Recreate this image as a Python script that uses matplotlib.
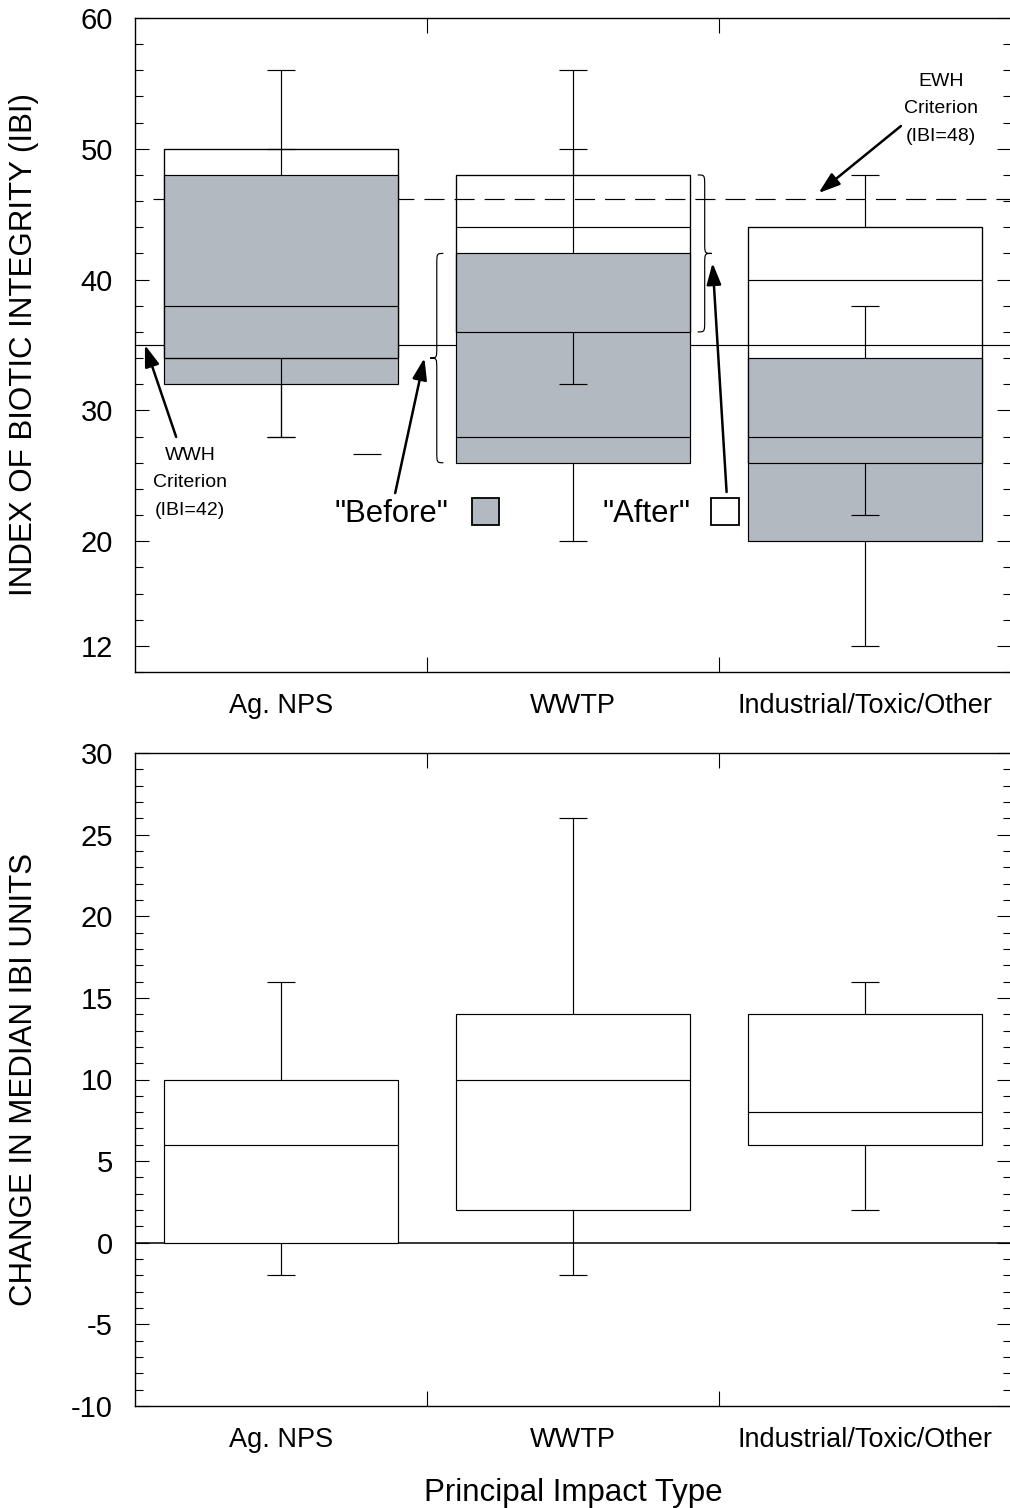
import numpy as np
import matplotlib.pyplot as plt
from matplotlib.path import Path
from matplotlib.patches import PathPatch, Rectangle
from matplotlib.ticker import MultipleLocator, FixedLocator

plt.rcParams['font.family'] = ['Liberation Sans', 'DejaVu Sans']
plt.rcParams['axes.unicode_minus'] = False

categories = ['Ag. NPS', 'WWTP', 'Industrial/Toxic/Other']

# IBI "before" (grey boxes)
before_lo = [28, 20, 12]
before_q1 = [32, 26, 20]
before_med = [34, 28, 28]
before_q3 = [48, 42, 34]
before_hi = [50, 50, 38]

# IBI "after" (white boxes)
after_lo = [28, 32, 22]
after_q1 = [34, 36, 26]
after_med = [38, 44, 40]
after_q3 = [50, 48, 44]
after_hi = [56, 56, 48]

wwh_line = 35
ewh_line = 46.2
stray_cap = [0.295, 26.7]

# change in median IBI units
change_lo = [-2, -2, 2]
change_q1 = [0, 2, 6]
change_med = [6, 10, 8]
change_q3 = [10, 14, 14]
change_hi = [16, 26, 16]

grey = '#b3b9c1'
box_w = 0.8
cap = 0.048
lw = 0.85
x = np.arange(len(categories))


def style_axes(ax, ylim, major_ticks, minor_step):
    ax.set_xlim(-0.5, 2.5)
    ax.set_ylim(*ylim)
    ax.set_xticks(x)
    ax.set_xticklabels(categories)
    ax.xaxis.set_minor_locator(FixedLocator([0.5, 1.5]))
    ax.tick_params(axis='x', which='major', length=0, pad=15, labelsize=19.5)
    ax.tick_params(axis='x', which='minor', direction='in', length=11,
                   width=0.8, top=True, bottom=True)
    ax.set_yticks(major_ticks)
    ax.yaxis.set_minor_locator(MultipleLocator(minor_step))
    ax.tick_params(axis='y', which='major', direction='in', length=10,
                   width=0.8, left=True, right=True, labelsize=21, pad=16)
    ax.tick_params(axis='y', which='minor', direction='in', length=5.5,
                   width=0.8, left=True, right=True)
    for s in ax.spines.values():
        s.set_linewidth(1.0)


def whiskers(ax, lo, q1, q3, hi, z=4):
    ax.vlines(x, q3, hi, color='black', lw=lw, zorder=z)
    ax.vlines(x, lo, q1, color='black', lw=lw, zorder=z)
    ax.hlines(hi, x - cap, x + cap, color='black', lw=lw, zorder=z)
    ax.hlines(lo, x - cap, x + cap, color='black', lw=lw, zorder=z)


def brace(ax, x_end, x_tip, y0, y1, h=0.9):
    xm = (x_end + x_tip) / 2
    ym = (y0 + y1) / 2
    verts = [(x_end, y1), (xm, y1), (xm, y1), (xm, y1 - h),
             (xm, ym + h), (xm, ym), (xm, ym), (x_tip, ym),
             (xm, ym), (xm, ym), (xm, ym - h),
             (xm, y0 + h), (xm, y0), (xm, y0), (x_end, y0)]
    codes = [Path.MOVETO, Path.CURVE4, Path.CURVE4, Path.CURVE4,
             Path.LINETO, Path.CURVE4, Path.CURVE4, Path.CURVE4,
             Path.CURVE4, Path.CURVE4, Path.CURVE4,
             Path.LINETO, Path.CURVE4, Path.CURVE4, Path.CURVE4]
    ax.add_patch(PathPatch(Path(verts, codes), facecolor='none',
                           edgecolor='black', lw=lw, zorder=5))


arrow = dict(arrowstyle='-|>,head_length=0.65,head_width=0.22', lw=1.8,
             color='black', mutation_scale=20, shrinkA=0, shrinkB=0)

fig = plt.figure(figsize=(10.1, 15.08), dpi=100)
ax1 = fig.add_axes([135 / 1010, 1 - 672 / 1508, 876 / 1010, 654 / 1508])
ax2 = fig.add_axes([135 / 1010, 1 - 1406 / 1508, 876 / 1010, 653 / 1508])

# top panel
ax1.bar(x, np.subtract(after_q3, after_q1), bottom=after_q1, width=box_w,
        color='white', edgecolor='black', lw=lw, zorder=1)
ax1.axhline(wwh_line, color='black', lw=lw, zorder=1.5)
ax1.axhline(ewh_line, xmin=0.02, color='black', lw=lw, dashes=(17, 8.5), zorder=1.5)
ax1.bar(x, np.subtract(before_q3, before_q1), bottom=before_q1, width=box_w,
        color=grey, edgecolor='black', lw=lw, zorder=2)
ax1.bar(x, np.subtract(after_q3, after_q1), bottom=after_q1, width=box_w,
        color='none', edgecolor='black', lw=lw, zorder=3)
ax1.hlines(before_med, x - box_w / 2, x + box_w / 2, color='black', lw=lw, zorder=3)
ax1.hlines(after_med, x - box_w / 2, x + box_w / 2, color='black', lw=lw, zorder=3)
whiskers(ax1, before_lo, before_q1, before_q3, before_hi)
whiskers(ax1, after_lo, after_q1, after_q3, after_hi)
ax1.hlines(stray_cap[1], stray_cap[0] - cap, stray_cap[0] + cap, color='black', lw=lw)

brace(ax1, x[1] - box_w / 2 - 0.044, x[1] - box_w / 2 - 0.089, before_q1[1], before_q3[1])
brace(ax1, x[1] + box_w / 2 + 0.027, x[1] + box_w / 2 + 0.075, after_q1[1], after_q3[1])

ax1.text(2.26, 53.05, 'EWH\nCriterion\n(IBI=48)', ha='center', va='center',
         fontsize=14, linespacing=1.8)
ax1.annotate('', xy=(1.841, 46.62), xytext=(2.123, 51.74), arrowprops=arrow)
ax1.text(-0.311, 24.45, 'WWH\nCriterion\n(IBI=42)', ha='center', va='center',
         fontsize=14, linespacing=1.8)
ax1.annotate('', xy=(-0.466, wwh_line), xytext=(-0.359, 27.97), arrowprops=arrow)

ax1.text(0.573, 21.47, '"Before"', ha='right', va='baseline', fontsize=22.3)
ax1.add_patch(Rectangle((0.655, 21.24), 0.093, 2.06, facecolor=grey,
                        edgecolor='black', lw=1.3, zorder=5))
ax1.annotate('', xy=(0.491, 34.0), xytext=(0.391, 23.68), arrowprops=arrow)
ax1.text(1.403, 21.47, '"After"', ha='right', va='baseline', fontsize=22.3)
ax1.add_patch(Rectangle((1.471, 21.24), 0.096, 2.06, facecolor='white',
                        edgecolor='black', lw=1.3, zorder=5))
ax1.annotate('', xy=(1.478, 41.27), xytext=(1.526, 23.76), arrowprops=arrow)

style_axes(ax1, (10, 60), [12, 20, 30, 40, 50, 60], 2)
ax1.set_ylabel('INDEX OF BIOTIC INTEGRITY (IBI)', fontsize=22.5)
ax1.yaxis.set_label_coords(-0.11, 0.5)

# bottom panel
ax2.axhline(0, color='black', lw=1.1, zorder=1)
ax2.bar(x, np.subtract(change_q3, change_q1), bottom=change_q1, width=box_w,
        color='white', edgecolor='black', lw=lw, zorder=2)
ax2.hlines(change_med, x - box_w / 2, x + box_w / 2, color='black', lw=lw, zorder=3)
whiskers(ax2, change_lo, change_q1, change_q3, change_hi)

style_axes(ax2, (-10, 30), np.arange(-10, 31, 5), 1)
ax2.set_ylabel('CHANGE IN MEDIAN IBI UNITS', fontsize=22.5)
ax2.yaxis.set_label_coords(-0.11, 0.5)
ax2.set_xlabel('Principal Impact Type', fontsize=22.5, labelpad=18)

fig.savefig('out.png', dpi=100)
